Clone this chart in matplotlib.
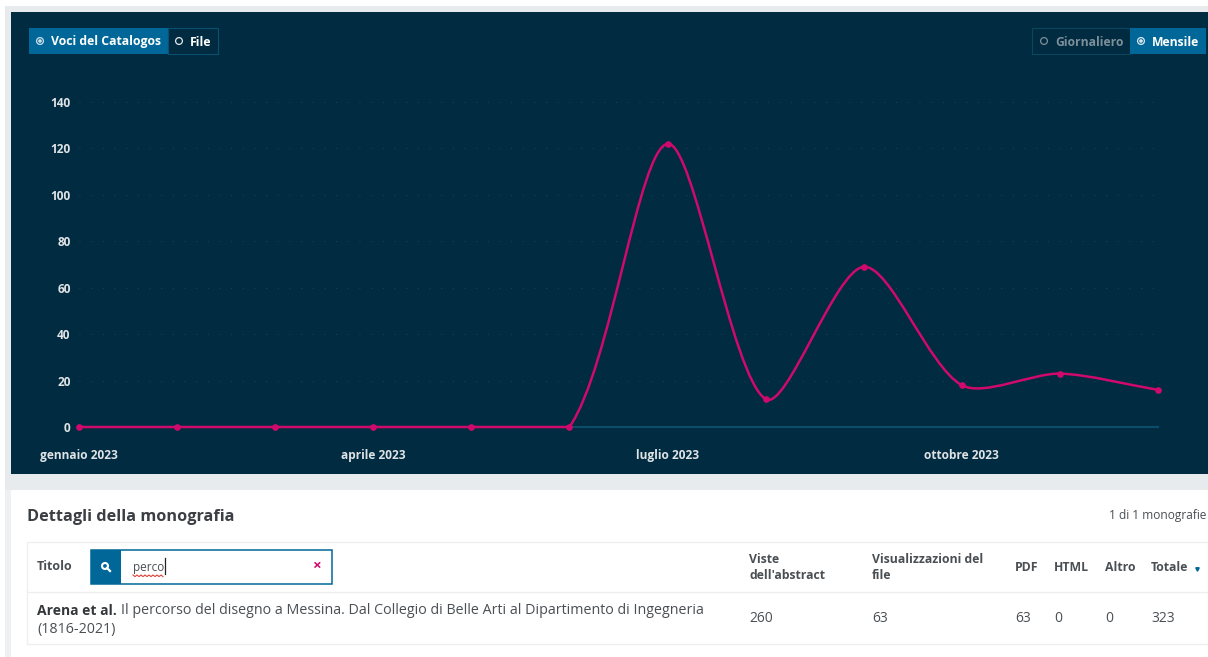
import matplotlib
matplotlib.use("Agg")
import matplotlib.pyplot as plt
from matplotlib.patches import Rectangle, Circle, PathPatch
from matplotlib.path import Path

plt.rcParams['font.family'] = ['Open Sans', 'DejaVu Sans']

# dati del grafico
mesi = ['gennaio 2023', 'febbraio 2023', 'marzo 2023', 'aprile 2023', 'maggio 2023', 'giugno 2023',
        'luglio 2023', 'agosto 2023', 'settembre 2023', 'ottobre 2023', 'novembre 2023', 'dicembre 2023']
valori = [0, 0, 0, 0, 0, 0, 122, 12, 69, 18, 23, 16]
y_ticks = [0, 20, 40, 60, 80, 100, 120, 140]

# dati della tabella
colonne = ["Viste\ndell'abstract", "Visualizzazioni del\nfile", "PDF", "HTML", "Altro", "Totale"]
riga = ['260', '63', '63', '0', '0', '323']

W, H = 1208, 657
SCURO = '#002b40'
BLU = '#006798'
PINK = '#d00a6c'
GRIGIO = '#4a4f54'

fig = plt.figure(figsize=(W / 100, H / 100), dpi=100, facecolor='white')

# livello di sfondo e interfaccia, in pixel
ui = fig.add_axes([0, 0, 1, 1], zorder=0)
ui.set_xlim(0, W)
ui.set_ylim(H, 0)
ui.axis('off')


def box(x0, y0, x1, y1, fc, ec='none', lw=0.0, z=1):
    ui.add_patch(Rectangle((x0, y0), x1 - x0, y1 - y0, fc=fc, ec=ec, lw=lw, zorder=z))


box(5, 6, W, 490, '#e8ebed')
box(11, 12, W, 474, SCURO)
box(11, 490, W, H, 'white')
box(5, 490, 11, H, '#eef0f2')

# pulsanti
box(29, 28, 168, 54, BLU, z=2)
box(168, 28, 218, 54, SCURO, ec='#0b5070', lw=0.8, z=2)
box(1032, 28, 1130, 54, SCURO, ec='#0b4560', lw=0.8, z=2)
box(1130, 28, 1206, 54, BLU, z=2)


def radio(x, y, pieno, col):
    ui.add_patch(Circle((x, y), 3.4, fc='none', ec=col, lw=0.9, zorder=3))
    if pieno:
        ui.add_patch(Circle((x, y), 1.8, fc=col, ec='none', zorder=3))


radio(40, 41, True, '#cfe0ea')
ui.text(51, 42, 'Voci del Catalogos', color='white', fontsize=8.8, weight='bold', va='center', zorder=3)
radio(179, 41, False, '#e6e6e6')
ui.text(190, 42, 'File', color='white', fontsize=8.8, weight='bold', va='center', zorder=3)
radio(1044, 41, False, '#7d8f9a')
ui.text(1055, 42, 'Giornaliero', color='#7d8f9a', fontsize=8.7, weight='bold', va='center', zorder=3)
radio(1141, 41, True, '#dce8ee')
ui.text(1152, 42, 'Mensile', color='white', fontsize=8.7, weight='bold', va='center', zorder=3)

# grafico
ax = fig.add_axes([79 / W, 1 - 427 / H, (1158 - 79) / W, 325 / H], zorder=2)
ax.patch.set_alpha(0)
ax.set_xlim(0, len(valori) - 1)
ax.set_ylim(0, 140)
for s in ax.spines.values():
    s.set_visible(False)
ax.set_yticks(y_ticks)
ax.set_xticks(range(0, len(mesi), 3))
ax.set_xticklabels(mesi[::3])
ax.tick_params(length=0, colors='#dfe3e6', labelsize=8.6)
ax.tick_params(axis='x', pad=16)
ax.tick_params(axis='y', pad=6)
for t in ax.get_xticklabels() + ax.get_yticklabels():
    t.set_fontweight('bold')
ax.grid(axis='y', color='#1c4558', lw=0.7, ls=(0, (1, 11)))
ax.axhline(0, color='#0b4d6b', lw=1.5, zorder=2, clip_on=False)

# curva spline, punti di controllo limitati all'area del grafico
px_x = (1158 - 79) / (len(valori) - 1)
px_y = 325 / 140
tens = 0.28
cp_prima = []
cp_dopo = []
for i, v in enumerate(valori):
    a = max(i - 1, 0)
    b = min(i + 1, len(valori) - 1)
    d0 = (((i - a) * px_x) ** 2 + ((v - valori[a]) * px_y) ** 2) ** 0.5
    d1 = (((b - i) * px_x) ** 2 + ((valori[b] - v) * px_y) ** 2) ** 0.5
    tot = d0 + d1
    dx = b - a
    dy = valori[b] - valori[a]
    cp_prima.append((i - tens * d0 / tot * dx, max(v - tens * d0 / tot * dy, 0)))
    cp_dopo.append((i + tens * d1 / tot * dx, max(v + tens * d1 / tot * dy, 0)))

vertici = [(0, valori[0])]
codici = [Path.MOVETO]
for i in range(1, len(valori)):
    vertici += [cp_dopo[i - 1], cp_prima[i], (i, valori[i])]
    codici += [Path.CURVE4] * 3
ax.add_patch(PathPatch(Path(vertici, codici), fc='none', ec=PINK, lw=1.8, zorder=4, clip_on=False))
ax.plot(range(len(valori)), valori, ls='none', marker='o', ms=3.8, color=PINK, zorder=5, clip_on=False)

# tabella
ui.text(27, 517, 'Dettagli della monografia', color='#3b3f44', fontsize=11.7, weight='bold', va='center', zorder=3)
ui.text(1206, 515, '1 di 1 monografie', color=GRIGIO, fontsize=8.6, ha='right', va='center', zorder=3)
box(27, 542, W, 644, 'white', ec='#eceeef', lw=0.9, z=2)
ui.plot([27, W], [592, 592], color='#eceeef', lw=0.9, zorder=3)

ui.text(37, 567, 'Titolo', color=GRIGIO, fontsize=9, weight='bold', va='center', zorder=3)
box(91, 550, 332, 584, 'white', ec=BLU, lw=1.1, z=3)
box(91, 550, 121, 584, BLU, z=4)
ui.add_patch(Circle((105, 566), 3.0, fc='none', ec='white', lw=1.5, zorder=5))
ui.plot([107, 110], [568, 571], color='white', lw=1.6, zorder=5)
ui.text(133, 567, 'perco', color=GRIGIO, fontsize=8.5, va='center', zorder=5)
ui.plot([165, 165], [558, 574], color='#222222', lw=0.9, zorder=5)
ond_x = [133 + i * 2 for i in range(16)]
ond_y = [575 + (i % 2) * 1.6 for i in range(16)]
ui.plot(ond_x, ond_y, color='#d8433a', lw=0.8, zorder=5)
ui.text(316.5, 566, '\u00d7', color=PINK, fontsize=11, weight='bold', ha='center', va='center', zorder=5)

col_x = [749, 872, 1015, 1054, 1105, 1151]
for x, c, v in zip(col_x, colonne, riga):
    ui.text(x, 567.5, c, color=GRIGIO, fontsize=8.8, weight='bold', va='center', linespacing=1.35, zorder=3)
    ui.text(x, 619, v, color=GRIGIO, fontsize=10, va='center', zorder=3)
ui.plot([1197], [569], ls='none', marker='v', ms=2.5, color=BLU, zorder=3)

ui.text(37, 611, 'Arena et al.', color='#33373b', fontsize=10, weight='bold', va='center', zorder=3)
ui.text(121, 611, 'Il percorso del disegno a Messina. Dal Collegio di Belle Arti al Dipartimento di Ingegneria',
        color=GRIGIO, fontsize=10.25, va='center', zorder=3)
ui.text(37, 629, '(1816-2021)', color=GRIGIO, fontsize=10.25, va='center', zorder=3)

fig.savefig('out.png', dpi=100, facecolor='white')
